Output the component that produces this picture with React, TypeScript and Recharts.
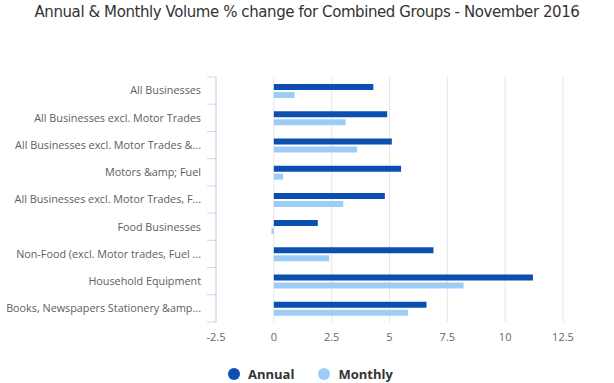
import * as React from "react";
import { Bar, BarChart, CartesianGrid, XAxis, YAxis } from "recharts";

const CATEGORIES = [
  "All Businesses",
  "All Businesses excl. Motor Trades",
  "All Businesses excl. Motor Trades &...",
  "Motors &amp; Fuel",
  "All Businesses excl. Motor Trades, F...",
  "Food Businesses",
  "Non-Food (excl. Motor trades, Fuel ...",
  "Household Equipment",
  "Books, Newspapers Stationery &amp...",
];
const ANNUAL = [4.3, 4.9, 5.1, 5.5, 4.8, 1.9, 6.9, 11.2, 6.6];
const MONTHLY = [0.9, 3.1, 3.6, 0.4, 3.0, -0.1, 2.4, 8.2, 5.8];
const X_TICKS = [-2.5, 0, 2.5, 5, 7.5, 10, 12.5];

const SERIES = [
  { key: "annual", name: "Annual", color: "#0b4fb0" },
  { key: "monthly", name: "Monthly", color: "#9dccf7" },
];

const data = CATEGORIES.map((c, i) => ({ cat: c, annual: ANNUAL[i], monthly: MONTHLY[i] }));

const W = 614;
const H = 383;
const TOP = 77;
const BOTTOM = 322;
const BAND = (BOTTOM - TOP) / CATEGORIES.length;
const FONT = "'Open Sans', sans-serif";

function CatTick({ x, y, payload, index }: any) {
  const last = index === CATEGORIES.length - 1;
  return (
    <g>
      <line x1={x - 1} x2={x + 8} y1={y - BAND / 2} y2={y - BAND / 2} stroke="#ccd6eb" />
      {last && <line x1={x - 1} x2={x + 8} y1={y + BAND / 2} y2={y + BAND / 2} stroke="#ccd6eb" />}
      <text x={x - 7} y={y} dy="0.35em" textAnchor="end" fill="#5e5e5e" fontSize={10.8} fontFamily={FONT}>
        {payload.value}
      </text>
    </g>
  );
}

export default function App() {
  return (
    <div style={{ position: "absolute", left: 0, top: 0, width: W, height: H, background: "#fff", fontFamily: FONT }}>
      <div
        style={{
          position: "absolute",
          top: 3,
          left: 0,
          width: W,
          textAlign: "center",
          fontSize: 15,
          color: "#333",
          fontFamily: "'DejaVu Sans', sans-serif",
          letterSpacing: -0.42,
        }}
      >
        Annual &amp; Monthly Volume % change for Combined Groups - November 2016
      </div>
      <BarChart
        width={W}
        height={H}
        data={data}
        layout="vertical"
        margin={{ top: TOP, right: 51, bottom: H - BOTTOM - 30, left: 0 }}
        barSize={6}
        barGap={2}
      >
        <CartesianGrid stroke="#e6e6e6" horizontal={false} />
        <XAxis
          type="number"
          domain={[-2.5, 12.5]}
          ticks={X_TICKS}
          height={30}
          tickLine={false}
          axisLine={false}
          tickMargin={5}
          tick={{ fill: "#666", fontSize: 11, fontFamily: FONT }}
          interval={0}
        />
        <YAxis
          type="category"
          dataKey="cat"
          width={216}
          tickLine={false}
          axisLine={{ stroke: "#ccd6eb" }}
          tick={<CatTick />}
          interval={0}
        />
        {SERIES.map((s) => (
          <Bar key={s.key} dataKey={s.key} name={s.name} fill={s.color} isAnimationActive={false} />
        ))}
      </BarChart>
      <div
        style={{
          position: "absolute",
          top: 365,
          left: 228,
          display: "flex",
          gap: 24,
          fontSize: 13,
          fontWeight: 700,
          color: "#333",
        }}
      >
        {SERIES.map((s) => (
          <div key={s.key} style={{ display: "flex", alignItems: "center", gap: 8 }}>
            <span style={{ width: 12, height: 12, borderRadius: 6, background: s.color, display: "inline-block" }} />
            <span>{s.name}</span>
          </div>
        ))}
      </div>
    </div>
  );
}
